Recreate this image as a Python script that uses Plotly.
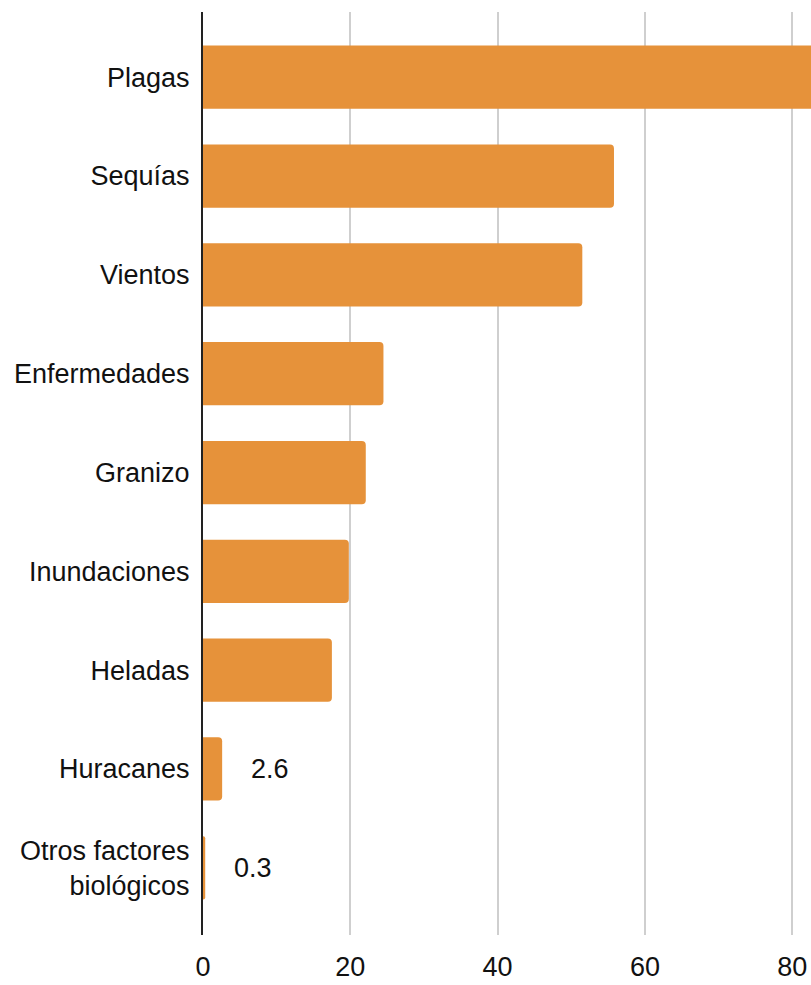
import plotly.graph_objects as go

# Causes of crop losses (values as shown on the horizontal axis)
categories = [
    "Plagas", "Sequías", "Vientos", "Enfermedades", "Granizo",
    "Inundaciones", "Heladas", "Huracanes", "Otros factores<br>biológicos",
]
values = [86.0, 55.8, 51.5, 24.5, 22.1, 19.8, 17.5, 2.6, 0.3]
labelled = ["Huracanes", "Otros factores<br>biológicos"]
x_ticks = [0, 20, 40, 60, 80]

BAR_COLOR = "#E6923A"
FONT = "Liberation Sans, Arial, sans-serif"
FSIZE = 27

fig = go.Figure(
    go.Bar(
        x=values,
        y=categories,
        orientation="h",
        marker=dict(color=BAR_COLOR, line=dict(width=0), cornerradius=4),
        cliponaxis=True,
        hoverinfo="skip",
    )
)

# value labels next to the short bars
for cat, val in zip(categories, values):
    if cat in labelled:
        fig.add_annotation(
            x=val, y=cat, text=f"{val:g}", showarrow=False,
            xanchor="left", xshift=27,
            font=dict(family=FONT, size=FSIZE, color="#111111"),
        )

fig.update_layout(
    width=811, height=985,
    margin=dict(l=203, r=0, t=12, b=50, autoexpand=False),
    paper_bgcolor="white", plot_bgcolor="white",
    bargap=0.36,
    showlegend=False,
    font=dict(family=FONT, size=FSIZE, color="#111111"),
)
fig.update_xaxes(
    range=[0, 82.55],
    tickvals=x_ticks,
    showgrid=True, gridcolor="#CFCFCF", gridwidth=1.5,
    zeroline=False, showline=False,
    ticks="", ticklabelstandoff=13,
    tickfont=dict(family=FONT, size=FSIZE, color="#111111"),
    automargin=False,
    fixedrange=True,
)
fig.update_yaxes(
    range=[8.68, -0.66],
    showgrid=False, zeroline=False,
    showline=True, linecolor="#222222", linewidth=2,
    ticks="", ticklabelstandoff=6,
    tickfont=dict(family=FONT, size=FSIZE, color="#111111"),
    automargin=False,
    fixedrange=True,
)

fig.write_html("out.html")
